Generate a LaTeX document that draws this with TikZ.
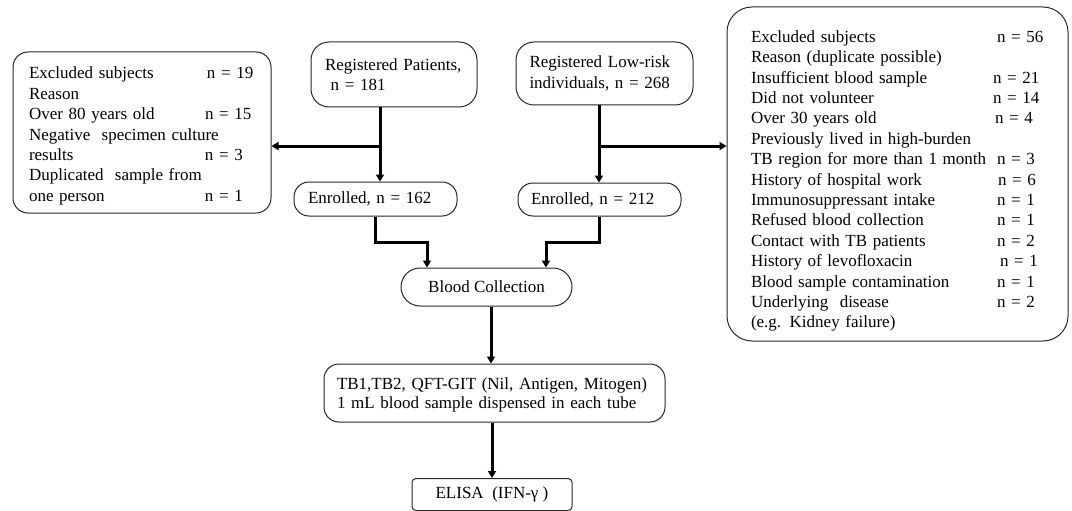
\documentclass[tikz,border=0pt]{standalone}
\usepackage{fontspec}
\setmainfont{Liberation Serif}
\usetikzlibrary{positioning, arrows.meta}
\definecolor{borde}{RGB}{40, 40, 40}
\newcommand{\fila}[3][176pt]{\makebox[#1][l]{#2}#3}

\begin{document}
\begin{tikzpicture}[
		x=1pt, y=-1pt,
		caja/.style = {
			rectangle,
			rounded corners=15pt,
			draw=borde,
			line width=1pt,
			align=left,
			inner ysep=0pt,
			font=\fontsize{17}{20.4}\selectfont
		},
		flecha/.style = {line width=3pt, -{Triangle[length=7pt,width=8pt]}},
		linea/.style = {line width=3pt}
		]
		\useasboundingbox (0,0) rectangle (1072,511);
		
		% Excluidos - pacientes (izquierda)
		\node[caja, inner xsep=16pt, text width=226pt, minimum height=161pt] (excl1) at (142,132.5)
		{\rule{0pt}{19pt}\fila[178pt]{Excluded subjects}{n = 19}\\
			Reason\\
			\fila{Over 80 years old}{n = 15}\\
			Negative\ \ specimen culture\\
			\fila{results}{n = 3}\\
			Duplicated\ \ sample from\\
			\fila{one person}{n = 1}};
		
		% Registrados
		\node[caja, inner xsep=14pt, text width=138pt, minimum height=65pt, rounded corners=18pt] (reg1) at (394,74.5)
		{Registered Patients,\\ \ n = 181};
		\node[caja, inner xsep=13.5pt, text width=150pt, minimum height=63pt, rounded corners=18pt] (reg2) at (604.5,73.5)
		{Registered Low-risk\\ individuals,\ n = 268};
		
		% Inscritos
		\node[caja, inner xsep=14pt, text width=135pt, minimum height=34pt] (enr1) at (375.5,199)
		{Enrolled, n = 162};
		\node[caja, inner xsep=13pt, text width=137pt, minimum height=33pt] (enr2) at (599.5,199.5)
		{Enrolled, n = 212};
		
		% Excluidos - bajo riesgo (derecha)
		\node[caja, inner xsep=24pt, text width=293pt, minimum height=334pt, rounded corners=25pt] (excl2) at (897.5,174)
		{\rule{0pt}{26pt}\fila[246pt]{Excluded subjects}{n = 56}\\
			Reason (duplicate possible)\\
			\fila[242pt]{Insufficient\ blood sample}{n = 21}\\
			\fila[242pt]{Did not volunteer}{n = 14}\\
			\fila[244pt]{Over 30 years old}{n = 4}\\
			Previously lived\ in\ high-burden\\
			\fila[246pt]{TB region\ for more than 1 month}{n = 3}\\
			\fila[247pt]{History of hospital work}{n = 6}\\
			\fila[246pt]{Immunosuppressant intake}{n = 1}\\
			\fila[246pt]{Refused blood collection}{n = 1}\\
			\fila[246pt]{Contact with TB patients}{n = 2}\\
			\fila[249pt]{History of levofloxacin}{n = 1}\\
			\fila[246pt]{Blood sample\ contamination}{n = 1}\\
			\fila[246pt]{Underlying\ \ disease}{n = 2}\\
			(e.g. Kidney\ failure)};
		
		% Muestras
		\node[caja, align=center, minimum width=171pt, minimum height=38pt, rounded corners=19pt] (sangre) at (486.5,287)
		{Blood Collection};
		\node[caja, inner xsep=13pt, text width=315pt, minimum height=58pt] (tubos) at (494.5,393)
		{\rule{0pt}{16pt}TB1,TB2, QFT-GIT (Nil, Antigen, Mitogen)\\[-2pt]
			1 mL blood sample dispensed in each tube};
		\node[caja, align=center, minimum width=160pt, minimum height=32pt, rounded corners=4pt] (elisa) at (492,494.5)
		{ELISA\ \ (IFN-γ\ )};
		
		% Conectores
		\coordinate (rama1) at (380,146);
		\coordinate (rama2) at (599,146);
		\coordinate (codo1) at (427,242);
		\coordinate (codo2) at (546,242);
		
		\draw[flecha] (reg1.south -| rama1) -- (enr1.north -| rama1);
		\draw[flecha] (rama1) -- (excl1.east |- rama1);
		\draw[flecha] (reg2.south -| rama2) -- (enr2.north -| rama2);
		\draw[flecha] (rama2) -- (excl2.west |- rama2);
		
		\draw[flecha] (enr1.south) |- (codo1) -- (codo1 |- sangre.north);
		\draw[flecha] (enr2.south) |- (codo2) -- (codo2 |- sangre.north);
		
		\draw[flecha] (sangre.south -| 491,0) -- (tubos.north -| 491,0);
		\draw[flecha] (elisa.north |- tubos.south) -- (elisa.north);
		
	\end{tikzpicture}
\end{document}
